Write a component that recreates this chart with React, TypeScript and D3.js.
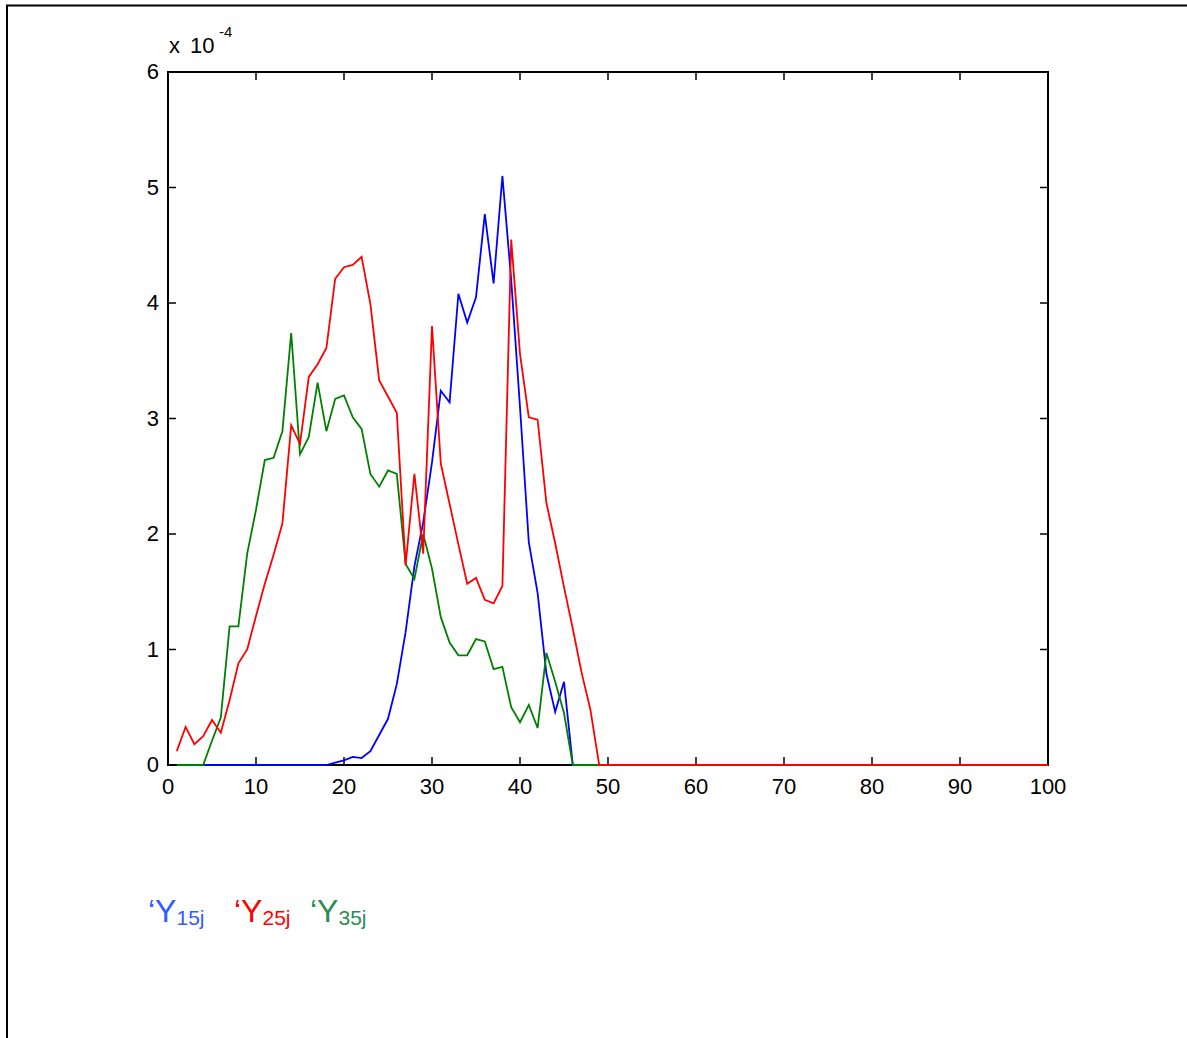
import React from "react";
import * as d3 from "d3";

// x positions 1..100
const xs: number[] = [
  1, 2, 3, 4, 5, 6, 7, 8, 9, 10, 11, 12, 13, 14, 15, 16, 17, 18, 19, 20,
  21, 22, 23, 24, 25, 26, 27, 28, 29, 30, 31, 32, 33, 34, 35, 36, 37, 38, 39, 40,
  41, 42, 43, 44, 45, 46, 47, 48, 49, 50, 51, 52, 53, 54, 55, 56, 57, 58, 59, 60,
  61, 62, 63, 64, 65, 66, 67, 68, 69, 70, 71, 72, 73, 74, 75, 76, 77, 78, 79, 80,
  81, 82, 83, 84, 85, 86, 87, 88, 89, 90, 91, 92, 93, 94, 95, 96, 97, 98, 99, 100,
];

// values in units of 1e-4
const y15: number[] = [
  0, 0, 0, 0, 0, 0, 0, 0, 0, 0, 0, 0, 0, 0, 0, 0, 0, 0, 0.02, 0.04,
  0.07, 0.06, 0.12, 0.26, 0.4, 0.7, 1.15, 1.72, 2.1, 2.62, 3.24, 3.14, 4.08, 3.83, 4.05, 4.77, 4.17, 5.1, 4.2, 3.1,
  1.93, 1.49, 0.79, 0.46, 0.72, 0, 0, 0, 0, 0, 0, 0, 0, 0, 0, 0, 0, 0, 0, 0,
  0, 0, 0, 0, 0, 0, 0, 0, 0, 0, 0, 0, 0, 0, 0, 0, 0, 0, 0, 0,
  0, 0, 0, 0, 0, 0, 0, 0, 0, 0, 0, 0, 0, 0, 0, 0, 0, 0, 0, 0,
];

const y35: number[] = [
  0, 0, 0, 0, 0.21, 0.41, 1.2, 1.2, 1.83, 2.21, 2.64, 2.66, 2.89, 3.74, 2.69, 2.84, 3.31, 2.89, 3.17, 3.2,
  3.01, 2.91, 2.52, 2.41, 2.55, 2.52, 1.74, 1.61, 2.0, 1.7, 1.28, 1.06, 0.95, 0.95, 1.09, 1.07, 0.83, 0.85, 0.5, 0.37,
  0.52, 0.32, 0.97, 0.72, 0.45, 0, 0, 0, 0, 0, 0, 0, 0, 0, 0, 0, 0, 0, 0, 0,
  0, 0, 0, 0, 0, 0, 0, 0, 0, 0, 0, 0, 0, 0, 0, 0, 0, 0, 0, 0,
  0, 0, 0, 0, 0, 0, 0, 0, 0, 0, 0, 0, 0, 0, 0, 0, 0, 0, 0, 0,
];

const y25: number[] = [
  0.12, 0.33, 0.18, 0.25, 0.39, 0.28, 0.56, 0.88, 1.0, 1.29, 1.57, 1.82, 2.09, 2.94, 2.78, 3.36, 3.47, 3.61, 4.21, 4.31,
  4.33, 4.4, 3.99, 3.33, 3.19, 3.05, 1.73, 2.52, 1.83, 3.8, 2.61, 2.26, 1.91, 1.57, 1.62, 1.43, 1.4, 1.55, 4.55, 3.56,
  3.01, 2.99, 2.27, 1.92, 1.54, 1.18, 0.8, 0.48, 0, 0, 0, 0, 0, 0, 0, 0, 0, 0, 0, 0,
  0, 0, 0, 0, 0, 0, 0, 0, 0, 0, 0, 0, 0, 0, 0, 0, 0, 0, 0, 0,
  0, 0, 0, 0, 0, 0, 0, 0, 0, 0, 0, 0, 0, 0, 0, 0, 0, 0, 0, 0,
];

const xTicks: number[] = [0, 10, 20, 30, 40, 50, 60, 70, 80, 90, 100];
const yTicks: number[] = [0, 1, 2, 3, 4, 5, 6];

// draw order: blue, green, red
const seriesOrder = [
  { values: y15, color: "#0000ff" },
  { values: y35, color: "#008000" },
  { values: y25, color: "#ff0000" },
];

const legendItems = [
  { sub: "15j", color: "#2f5cff", x: 148 },
  { sub: "25j", color: "#ff0000", x: 234 },
  { sub: "35j", color: "#2e8b57", x: 310 },
];

const FONT = "Arial, 'Liberation Sans', Helvetica, sans-serif";

export default function App() {
  const W = 1187;
  const H = 1038;
  const left = 168, right = 1048, top = 72, bottom = 765;
  const x = d3.scaleLinear().domain([0, 100]).range([left, right]);
  const y = d3.scaleLinear().domain([0, 6]).range([bottom, top]);
  const line = d3
    .line<number>()
    .x((_, i) => x(xs[i]))
    .y((d) => y(d));
  const tl = 8;

  return (
    <svg
      width={W}
      height={H}
      style={{ position: "absolute", left: 0, top: 0, background: "#fff" }}
      fontFamily={FONT}
    >
      <rect x={0} y={0} width={W} height={H} fill="#fff" />
      {/* outer frame */}
      <line x1={6} y1={5.5} x2={W} y2={5.5} stroke="#000" strokeWidth={2} />
      <line x1={7} y1={5} x2={7} y2={H} stroke="#000" strokeWidth={2} />

      {/* axes box */}
      <rect
        x={left}
        y={top}
        width={right - left}
        height={bottom - top}
        fill="none"
        stroke="#000"
        strokeWidth={2}
      />
      {xTicks.map((t) => (
        <g key={"xt" + t}>
          <line x1={x(t)} x2={x(t)} y1={bottom} y2={bottom - tl} stroke="#000" strokeWidth={1.5} />
          <line x1={x(t)} x2={x(t)} y1={top} y2={top + tl} stroke="#000" strokeWidth={1.5} />
          <text x={x(t)} y={bottom + 29} textAnchor="middle" fontSize={22} fill="#000">
            {t}
          </text>
        </g>
      ))}
      {yTicks.map((t) => (
        <g key={"yt" + t}>
          <line x1={left} x2={left + tl} y1={y(t)} y2={y(t)} stroke="#000" strokeWidth={1.5} />
          <line x1={right} x2={right - tl} y1={y(t)} y2={y(t)} stroke="#000" strokeWidth={1.5} />
          <text x={left - 9} y={y(t) + 7} textAnchor="end" fontSize={22} fill="#000">
            {t}
          </text>
        </g>
      ))}

      {/* series (drawn over the axes, as in the reference) */}
      {seriesOrder.map((s, k) => (
        <path
          key={k}
          d={line(s.values) || ""}
          fill="none"
          stroke={s.color}
          strokeWidth={1.8}
          strokeLinejoin="miter"
        />
      ))}

      {/* exponent */}
      <text x={169} y={53} fontSize={22} fill="#000">
        x
      </text>
      <text x={190} y={53} fontSize={22} fill="#000">
        10
      </text>
      <text x={219} y={37} fontSize={15} fill="#000">
        -4
      </text>

      {/* legend */}
      {legendItems.map((it) => (
        <text key={it.sub} x={it.x} y={922} fill={it.color} fontSize={32}>
          {"\u2018Y"}
          <tspan fontSize={21} dy={3}>
            {it.sub}
          </tspan>
        </text>
      ))}
    </svg>
  );
}
